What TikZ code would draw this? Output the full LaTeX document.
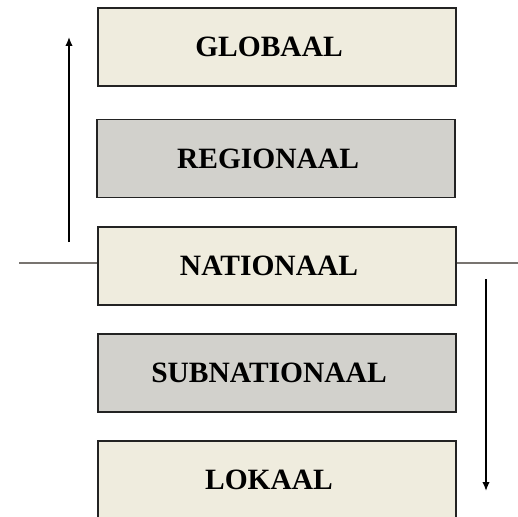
\documentclass[tikz,border=0pt]{standalone}
\usepackage{fontspec}
\setmainfont{Liberation Serif}
\usetikzlibrary{arrows.meta}
\definecolor{beige}{RGB}{239,236,222}
\definecolor{grijs}{RGB}{210,209,204}
\definecolor{rand}{RGB}{35,35,35}
\definecolor{lijn}{RGB}{120,116,112}
\tikzset{
  level/.style={draw=rand, line width=1.3bp, minimum width=358bp, minimum height=78bp,
    inner sep=0pt, font=\bfseries\fontsize{29.6}{32}\selectfont,
    execute at begin node=\hspace*{-16bp}},
  licht/.style={level, fill=beige},
  donker/.style={level, fill=grijs},
  pijl/.style={-{Latex[length=9bp,width=7.5bp]}, line width=1.5bp}
}
\begin{document}
\begin{tikzpicture}[x=1bp,y=-1bp]
      \useasboundingbox (0,0) rectangle (518,517);
      \draw
        (277,47) node[licht] (glob){GLOBAAL}
        (276,158.5) node[donker] (reg){REGIONAAL}
        (277,266) node[licht] (nat){NATIONAAL}
        (277,373) node[donker] (sub){SUBNATIONAAL}
        (277,480) node[licht] (lok){LOKAAL};
      \coordinate (opL) at (69,242);
      \coordinate (opT) at (69,37);
      \coordinate (neerT) at (486,279);
      \coordinate (neerB) at (486,491);
      \coordinate (lijnL) at (19,263);
      \coordinate (lijnR) at (518,263);
      \begin{scope}[pijl]
        \draw (opL) to (opT);
        \draw (neerT) to (neerB);
      \end{scope}
      \begin{scope}[-, draw=lijn, line width=1.4bp]
        \draw (lijnL) to (lijnL -| nat.west);
        \draw (lijnR -| nat.east) to (lijnR);
      \end{scope}
    \end{tikzpicture}
\end{document}
